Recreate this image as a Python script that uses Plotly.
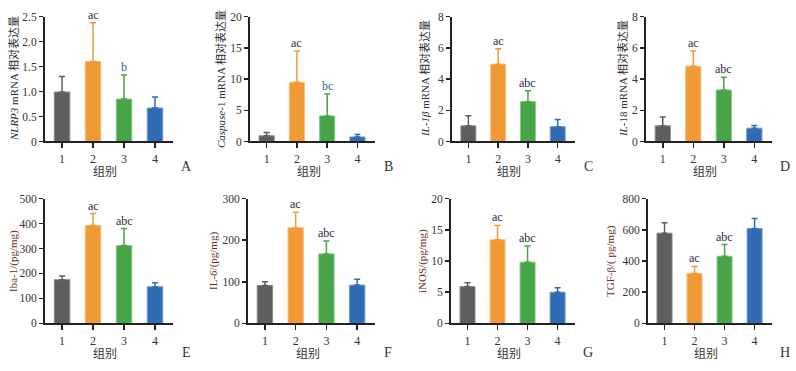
import plotly.graph_objects as go

groups = [1, 2, 3, 4]
group_labels = ["1", "2", "3", "4"]
bar_colors = ["#5e5e5e", "#f09a36", "#47a447", "#2f6cb3"]
edge_colors = ["#8a8a8a", "#f7bf7a", "#86c986", "#6f9bd2"]

nlrp3 = [0.99, 1.60, 0.85, 0.67]
nlrp3_sd = [0.31, 0.78, 0.48, 0.22]
nlrp3_sig = ["", "ac", "b", ""]

caspase1 = [0.9, 9.5, 4.1, 0.72]
caspase1_sd = [0.55, 5.0, 3.5, 0.38]
caspase1_sig = ["", "ac", "bc", ""]

il1b = [1.0, 4.95, 2.55, 0.95]
il1b_sd = [0.65, 1.0, 0.7, 0.45]
il1b_sig = ["", "ac", "abc", ""]

il18 = [1.0, 4.82, 3.3, 0.85]
il18_sd = [0.57, 0.98, 0.82, 0.17]
il18_sig = ["", "ac", "abc", ""]

iba1 = [175, 392, 312, 147]
iba1_sd = [15, 48, 68, 16]
iba1_sig = ["", "ac", "abc", ""]

il6 = [91, 230, 167, 92]
il6_sd = [9, 37, 31, 14]
il6_sig = ["", "ac", "abc", ""]

inos = [5.9, 13.4, 9.8, 5.0]
inos_sd = [0.6, 2.3, 2.6, 0.7]
inos_sig = ["", "ac", "abc", ""]

tgfb = [578, 320, 430, 608]
tgfb_sd = [67, 45, 75, 64]
tgfb_sig = ["", "ac", "abc", ""]

W, H = 796, 371
FONT = "Liberation Serif, Times New Roman, Noto Sans CJK SC, serif"


def fx(px):
    return px / W


def fy(py):
    return 1 - py / H


panels = [
    (nlrp3, nlrp3_sd, nlrp3_sig, [0, 0.5, 1.0, 1.5, 2.0, 2.5], ["0", "0.5", "1.0", "1.5", "2.0", "2.5"],
     "<i>NLRP3</i> mRNA 相对表达量", "A", (45, 173), (11, 140), 13, "#2b2b2b"),
    (caspase1, caspase1_sd, caspase1_sig, [0, 5, 10, 15, 20], ["0", "5", "10", "15", "20"],
     "<i>Caspase</i>-1 mRNA 相对表达量", "B", (250, 375), (11, 140), 220, "#2b2b2b"),
    (il1b, il1b_sd, il1b_sig, [0, 2, 4, 6, 8], ["0", "2", "4", "6", "8"],
     "<i>IL</i>-<i>1β</i> mRNA 相对表达量", "C", (452, 575), (11, 140), 424, "#2b2b2b"),
    (il18, il18_sd, il18_sig, [0, 2, 4, 6, 8], ["0", "2", "4", "6", "8"],
     "<i>IL</i>-18 mRNA 相对表达量", "D", (646, 772), (11, 140), 622, "#2b2b2b"),
    (iba1, iba1_sd, iba1_sig, [0, 100, 200, 300, 400, 500], ["0", "100", "200", "300", "400", "500"],
     "Iba-1/(pg/mg)", "E", (45, 173), (199, 328), 14, "#6b2a1e"),
    (il6, il6_sd, il6_sig, [0, 100, 200, 300], ["0", "100", "200", "300"],
     "IL-<i>6</i>/(pg/mg)", "F", (248, 375), (199, 328), 214, "#6b2a1e"),
    (inos, inos_sd, inos_sig, [0, 5, 10, 15, 20], ["0", "5", "10", "15", "20"],
     "iNOS/(pg/mg)", "G", (451, 575), (199, 328), 423, "#6b2a1e"),
    (tgfb, tgfb_sd, tgfb_sig, [0, 200, 400, 600, 800], ["0", "200", "400", "600", "800"],
     "TGF-β/( pg/mg)", "H", (648, 772), (199, 328), 611, "#6b2a1e"),
]

fig = go.Figure()
annotations = []
layout = {}

for i, (vals, sd, sig, tv, tt, title, letter, xpx, ypx, tx, tcol) in enumerate(panels):
    n = i + 1
    xa = "x" if n == 1 else f"x{n}"
    ya = "y" if n == 1 else f"y{n}"
    xkey = "xaxis" if n == 1 else f"xaxis{n}"
    ykey = "yaxis" if n == 1 else f"yaxis{n}"
    for k in range(4):
        fig.add_trace(go.Bar(
            x=[groups[k]], y=[vals[k]], xaxis=xa, yaxis=ya, width=0.5,
            marker=dict(color=bar_colors[k], line=dict(color=edge_colors[k], width=1)),
            error_y=dict(type="data", symmetric=False, array=[sd[k]], arrayminus=[0],
                         thickness=1.5, width=3, color=bar_colors[k]),
            showlegend=False,
        ))
    layout[xkey] = dict(
        domain=[fx(xpx[0]), fx(xpx[1])], range=[0.45, 4.58], anchor=ya,
        tickvals=groups, ticktext=group_labels, ticks="outside", ticklen=5, tickwidth=1.5,
        tickcolor="#222", showline=True, linecolor="#222", linewidth=2, showgrid=False,
        zeroline=False, tickfont=dict(family=FONT, size=12, color="#333"), fixedrange=True,
    )
    layout[ykey] = dict(
        domain=[fy(ypx[1]), fy(ypx[0])], range=[0, tv[-1]], anchor=xa,
        tickvals=tv, ticktext=tt, ticks="outside", ticklen=4, tickwidth=1.5,
        tickcolor="#222", showline=True, linecolor="#222", linewidth=2, showgrid=False,
        zeroline=False, tickfont=dict(family=FONT, size=11.5, color="#333"), fixedrange=True,
    )
    for g, v, s, lab in zip(groups, vals, sd, sig):
        if lab:
            col = "#33589e" if lab in ("b", "bc") else "#2a2a45"
            annotations.append(dict(
                x=g, y=v + s, xref=xa, yref=ya, text=lab, showarrow=False,
                yanchor="bottom", yshift=-1, font=dict(family=FONT, size=12, color=col)))
    ymid = (ypx[0] + ypx[1]) / 2
    annotations.append(dict(
        x=fx(tx), y=fy(ymid), xref="paper", yref="paper", text=title, textangle=-90,
        showarrow=False, xanchor="center", yanchor="middle",
        font=dict(family=FONT, size=11, color=tcol)))
    xmid = (xpx[0] + xpx[1]) / 2 - 4
    lab_y = 172 if ypx[0] < 100 else 360
    annotations.append(dict(
        x=fx(xmid), y=fy(lab_y), xref="paper", yref="paper", text="组别",
        showarrow=False, xanchor="center", yanchor="middle",
        font=dict(family=FONT, size=12, color="#333")))
    letter_y = 166 if ypx[0] < 100 else 358
    annotations.append(dict(
        x=fx(xpx[1] + 13), y=fy(letter_y), xref="paper", yref="paper", text=letter,
        showarrow=False, xanchor="center", yanchor="middle",
        font=dict(family=FONT, size=14, color="#333")))

fig.update_layout(
    width=W, height=H, margin=dict(l=0, r=0, t=0, b=0),
    paper_bgcolor="white", plot_bgcolor="white", barmode="overlay",
    annotations=annotations, **layout,
)

fig.write_html(
    "out.html",
    config={"displayModeBar": False, "staticPlot": True},
    post_script="document.documentElement.style.margin='0';document.body.style.margin='0';"
                "document.body.style.overflow='hidden';",
)
